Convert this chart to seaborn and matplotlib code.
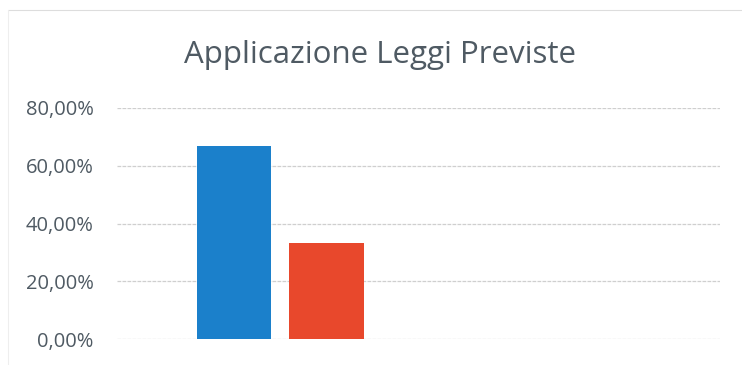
import matplotlib
matplotlib.use("Agg")
import matplotlib.pyplot as plt
import seaborn as sns
import pandas as pd
from matplotlib.ticker import FuncFormatter

# Share of laws applied as planned
categories = ["Sì", "No"]
values = [0.6667, 0.3333]
bar_colors = ["#1b80cb", "#e8482c"]
y_ticks = [0.0, 0.2, 0.4, 0.6, 0.8]
title = "Applicazione Leggi Previste"

df = pd.DataFrame({"categoria": categories, "valore": values})

sns.set_theme(style="white")
plt.rcParams["font.family"] = ["Open Sans", "DejaVu Sans"]

fig = plt.figure(figsize=(7.42, 3.65), dpi=100)
ax = fig.add_axes([117 / 742, 26 / 365, 603 / 742, 231 / 365])

sns.barplot(data=df, x="categoria", y="valore", hue="categoria",
            palette=bar_colors, width=0.81, legend=False, ax=ax,
            saturation=1, edgecolor="none")

ax.set_xlim(-1.265, 5.254)
ax.set_ylim(0, 0.8)
ax.set_yticks(y_ticks)
ax.yaxis.set_major_formatter(
    FuncFormatter(lambda v, _: f"{v * 100:.2f}%".replace(".", ",")))
ax.tick_params(axis="y", labelsize=14.5, labelcolor="#4f5a63", length=0, pad=17)
ax.set_xticks([])
ax.set_xlabel("")
ax.set_ylabel("")
ax.grid(axis="y", color="#cfcfcf", linewidth=0.9, linestyle=(0, (3, 1)))
ax.set_axisbelow(True)
for s in ax.spines.values():
    s.set_visible(False)

fig.text(380 / 742, 1 - 55 / 365, title, ha="center", va="center",
         fontsize=22.5, color="#4f5a63")

# faint chart frame
fig.add_artist(plt.Line2D([8 / 742, 1], [1 - 10 / 365, 1 - 10 / 365],
                          color="#dddddd", linewidth=0.8))
fig.add_artist(plt.Line2D([8 / 742, 8 / 742], [0, 1 - 10 / 365],
                          color="#eeeeee", linewidth=0.8))

fig.savefig("out.png", dpi=100)
